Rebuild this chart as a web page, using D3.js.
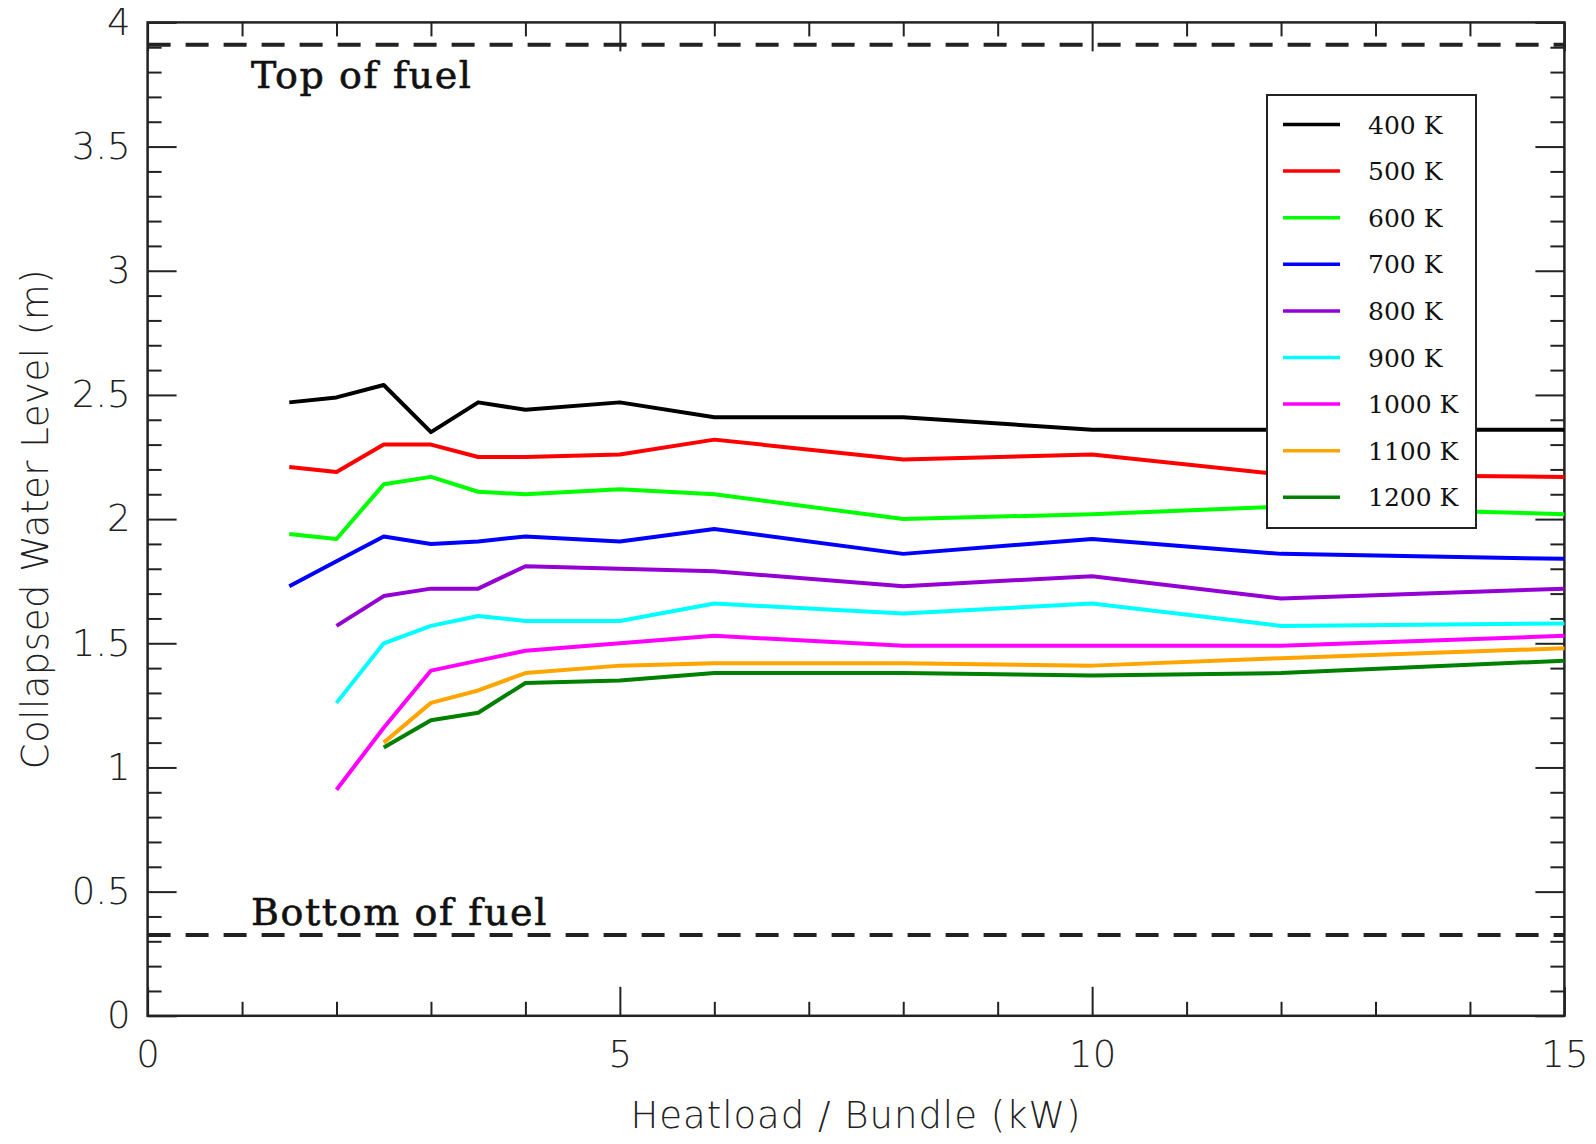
<!DOCTYPE html>
<html>
<head>
<meta charset="utf-8">
<script src="https://cdn.jsdelivr.net/npm/d3@7"></script>
<style>
    body { margin: 0; background: #ffffff; }
    .tickText { font-family: "DejaVu Sans", sans-serif; font-weight: 200; font-size: 37px; fill: #222; }
    .axisTitle { font-family: "DejaVu Sans", sans-serif; font-weight: 200; font-size: 37px; fill: #222; }
    .fuelText { font-family: "DejaVu Serif", serif; font-size: 38px; fill: #111; stroke: #111; stroke-width: 0.6px; letter-spacing: 1.6px; }
    .legendText { font-family: "DejaVu Serif", serif; font-size: 25px; fill: #111; }
</style>
</head>
<body>
<div id="canvas"></div>
<script>
"use strict"

/* Data */
let heatloads = [1.5, 2, 2.5, 3, 3.5, 4, 5, 6, 8, 10, 12, 15];

let temperatures = ["400 K", "500 K", "600 K", "700 K", "800 K", "900 K", "1000 K", "1100 K", "1200 K"];

let lineColors = ["#000000", "#ff0000", "#00ff00", "#0000ff", "#9400d3",
                  "#00ffff", "#ff00ff", "#ffa500", "#008000"];

// collapsed water level (m), one array per temperature, null = no run
let level400 = [2.47, 2.49, 2.54, 2.35, 2.47, 2.44, 2.47, 2.41, 2.41, 2.36, 2.36, 2.36];
let level500 = [2.21, 2.19, 2.30, 2.30, 2.25, 2.25, 2.26, 2.32, 2.24, 2.26, 2.18, 2.17];
let level600 = [1.94, 1.92, 2.14, 2.17, 2.11, 2.10, 2.12, 2.10, 2.00, 2.02, 2.05, 2.02];
let level700 = [1.73, 1.83, 1.93, 1.90, 1.91, 1.93, 1.91, 1.96, 1.86, 1.92, 1.86, 1.84];
let level800 = [null, 1.57, 1.69, 1.72, 1.72, 1.81, 1.80, 1.79, 1.73, 1.77, 1.68, 1.72];
let level900 = [null, 1.26, 1.50, 1.57, 1.61, 1.59, 1.59, 1.66, 1.62, 1.66, 1.57, 1.58];
let level1000 = [null, 0.91, 1.16, 1.39, 1.43, 1.47, 1.50, 1.53, 1.49, 1.49, 1.49, 1.53];
let level1100 = [null, null, 1.10, 1.26, 1.31, 1.38, 1.41, 1.42, 1.42, 1.41, 1.44, 1.48];
let level1200 = [null, null, 1.08, 1.19, 1.22, 1.34, 1.35, 1.38, 1.38, 1.37, 1.38, 1.43];

let allLevels = [level400, level500, level600, level700, level800,
                 level900, level1000, level1100, level1200];

// reference lines
let topOfFuel = 3.91;
let bottomOfFuel = 0.325;

let xMajorTicks = [0, 5, 10, 15];
let yMajorTicks = [0, 0.5, 1, 1.5, 2, 2.5, 3, 3.5, 4];

/* Layout */
let svgWidth = 1596;
let svgHeight = 1144;
let plotLeft = 147.6;
let plotRight = 1564.4;
let plotTop = 22.4;
let plotBottom = 1015.8;

let svg = d3.select("#canvas")
    .append("svg")
    .attr("width", svgWidth)
    .attr("height", svgHeight);

let xScale = d3.scaleLinear().domain([0, 15]).range([plotLeft, plotRight]);
let yScale = d3.scaleLinear().domain([0, 4]).range([plotBottom, plotTop]);

// minor ticks: every 1 kW on x, every 0.1 m on y
let xMinorTicks = d3.range(0, 16).filter(function(v) { return v % 5 !== 0; });
let yMinorTicks = d3.range(0, 41).map(function(i) { return i / 10; })
    .filter(function(v) { return Math.round(v * 10) % 5 !== 0; });

let fmt = d3.format("~g");

/* Axes (ticks point inward, all four sides) */
function drawAxis(axis, transform, withLabels) {
    let g = svg.append("g")
        .attr("transform", transform)
        .call(axis);
    g.select(".domain").remove();
    g.selectAll(".tick line").attr("stroke", "#222").attr("stroke-width", 2);
    if (withLabels) {
        g.selectAll(".tick text").attr("class", "tickText").attr("font-size", null).attr("font-family", null);
    } else {
        g.selectAll(".tick text").remove();
    }
    return g;
}

drawAxis(d3.axisBottom(xScale).tickValues(xMajorTicks).tickSizeInner(-29).tickSizeOuter(0)
    .tickPadding(25).tickFormat(fmt), "translate(0," + plotBottom + ")", true);
drawAxis(d3.axisBottom(xScale).tickValues(xMinorTicks).tickSizeInner(-14).tickSizeOuter(0),
    "translate(0," + plotBottom + ")", false);
drawAxis(d3.axisTop(xScale).tickValues(xMajorTicks).tickSizeInner(-29).tickSizeOuter(0),
    "translate(0," + plotTop + ")", false);
drawAxis(d3.axisTop(xScale).tickValues(xMinorTicks).tickSizeInner(-14).tickSizeOuter(0),
    "translate(0," + plotTop + ")", false);

drawAxis(d3.axisLeft(yScale).tickValues(yMajorTicks).tickSizeInner(-29).tickSizeOuter(0)
    .tickPadding(17).tickFormat(fmt), "translate(" + plotLeft + ",0)", true);
drawAxis(d3.axisLeft(yScale).tickValues(yMinorTicks).tickSizeInner(-14).tickSizeOuter(0),
    "translate(" + plotLeft + ",0)", false);
drawAxis(d3.axisRight(yScale).tickValues(yMajorTicks).tickSizeInner(-29).tickSizeOuter(0),
    "translate(" + plotRight + ",0)", false);
drawAxis(d3.axisRight(yScale).tickValues(yMinorTicks).tickSizeInner(-14).tickSizeOuter(0),
    "translate(" + plotRight + ",0)", false);

// plot frame
svg.append("rect")
    .attr("x", plotLeft)
    .attr("y", plotTop)
    .attr("width", plotRight - plotLeft)
    .attr("height", plotBottom - plotTop)
    .attr("fill", "none")
    .attr("stroke", "#222")
    .attr("stroke-width", 2.5);

/* Axis titles */
svg.append("text")
    .attr("class", "axisTitle")
    .attr("x", (plotLeft + plotRight) / 2)
    .attr("y", 1128)
    .attr("text-anchor", "middle")
    .style("letter-spacing", "1px")
    .text("Heatload / Bundle (kW)");

svg.append("text")
    .attr("class", "axisTitle")
    .attr("transform", "translate(48," + ((plotTop + plotBottom) / 2) + ") rotate(-90)")
    .attr("text-anchor", "middle")
    .style("letter-spacing", "0.5px")
    .text("Collapsed Water Level (m)");

/* Fuel reference lines */
[topOfFuel, bottomOfFuel].forEach(function(v) {
    svg.append("line")
        .attr("x1", plotLeft)
        .attr("x2", plotRight)
        .attr("y1", yScale(v))
        .attr("y2", yScale(v))
        .attr("stroke", "#222")
        .attr("stroke-width", 4)
        .attr("stroke-dasharray", "23 15");
});

svg.append("text")
    .attr("class", "fuelText")
    .attr("x", 251)
    .attr("y", 88)
    .text("Top of fuel");

svg.append("text")
    .attr("class", "fuelText")
    .attr("x", 251)
    .attr("y", 925)
    .text("Bottom of fuel");

/* Data lines */
let line = d3.line()
    .defined(function(d) { return d[1] !== null; })
    .x(function(d) { return xScale(d[0]); })
    .y(function(d) { return yScale(d[1]); });

for (let i = 0; i < allLevels.length; i++) {
    let pts = heatloads.map(function(h, j) { return [h, allLevels[i][j]]; });
    svg.append("path")
        .datum(pts)
        .attr("d", line)
        .attr("fill", "none")
        .attr("stroke", lineColors[i])
        .attr("stroke-width", 4)
        .attr("stroke-linejoin", "round");
}

/* Legend */
let legendX = 1267;
let legendY = 95;
let legendW = 209;
let legendH = 433;
let rowStart = 124.5;
let rowStep = 46.6;

svg.append("rect")
    .attr("x", legendX)
    .attr("y", legendY)
    .attr("width", legendW)
    .attr("height", legendH)
    .attr("fill", "white")
    .attr("stroke", "#222")
    .attr("stroke-width", 2);

for (let i = 0; i < temperatures.length; i++) {
    let itemY = rowStart + i * rowStep;
    svg.append("line")
        .attr("x1", legendX + 16)
        .attr("x2", legendX + 73)
        .attr("y1", itemY)
        .attr("y2", itemY)
        .attr("stroke", lineColors[i])
        .attr("stroke-width", 3.5);
    svg.append("text")
        .attr("class", "legendText")
        .attr("x", legendX + 101)
        .attr("y", itemY)
        .attr("dy", "0.36em")
        .text(temperatures[i]);
}
</script>
</body>
</html>
